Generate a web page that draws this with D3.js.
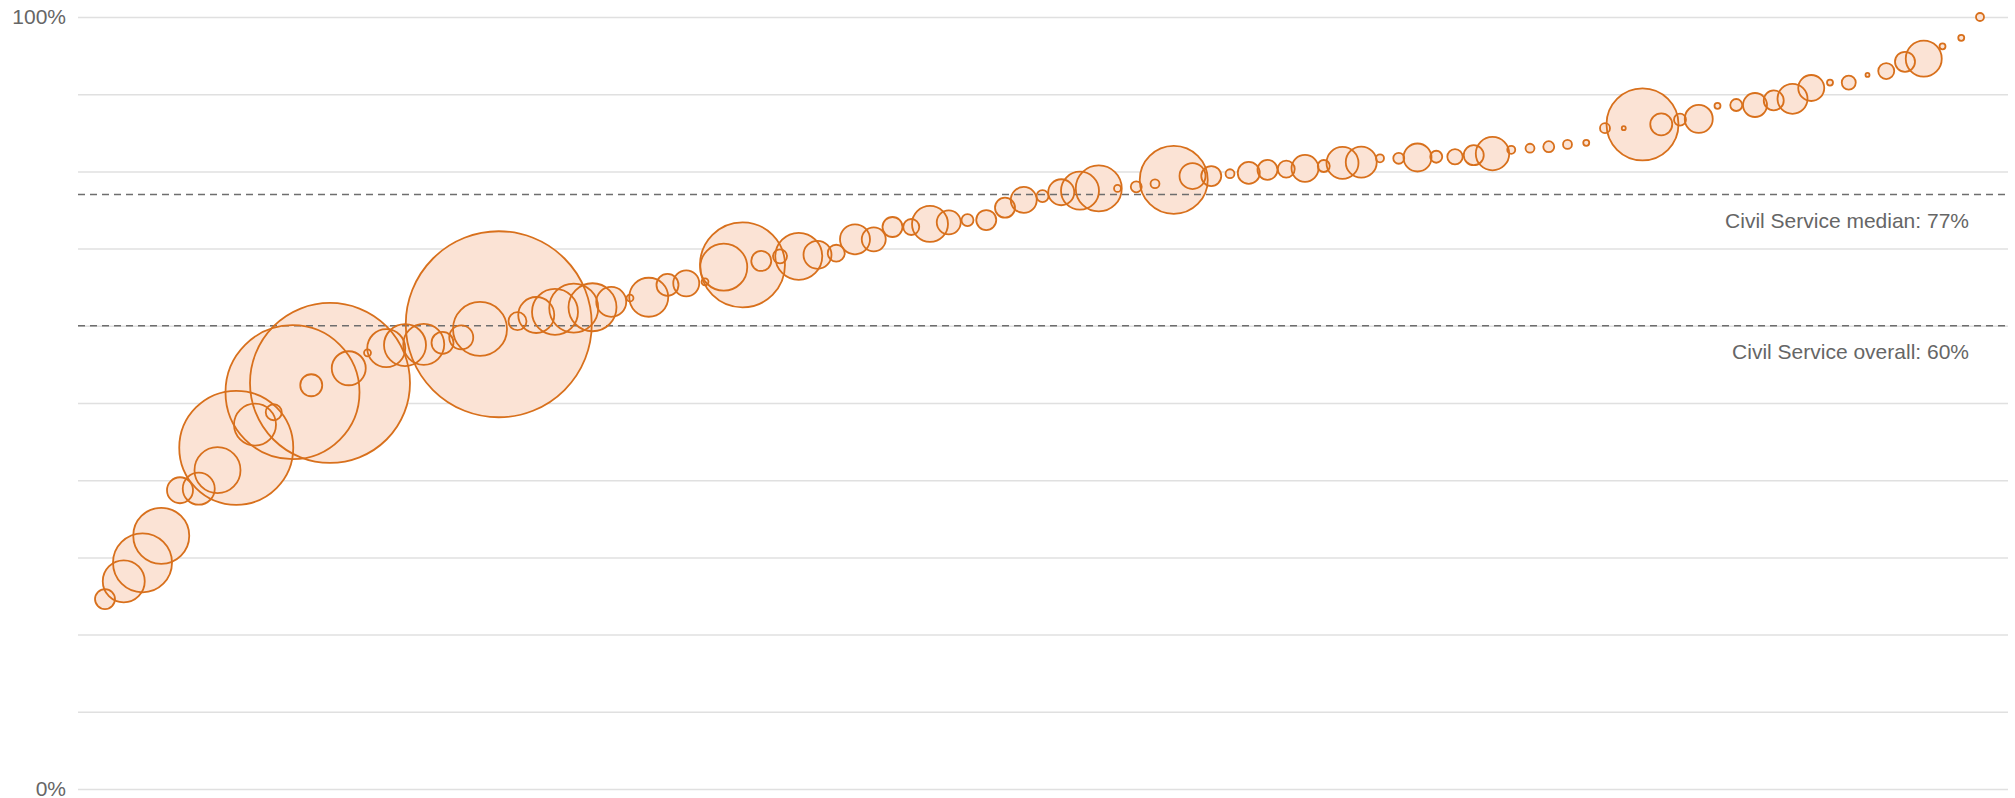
<!DOCTYPE html>
<html>
<head>
<meta charset="utf-8">
<script src="https://cdn.jsdelivr.net/npm/d3@7"></script>
<style>
  body { margin: 0; background: #fff; }
  text { font-family: "Liberation Sans", Arial, Helvetica, sans-serif; }
</style>
</head>
<body>
<div id="chartHolder"></div>
<script>
// share of staff (%) per organisation, sorted low to high
const shares = [
  24.6, 26.9, 29.3, 32.8, 38.7, 38.9, 41.3, 44.2, 47.2, 48.8,
  51.4, 52.3, 52.6, 54.5, 56.5, 57.1, 57.5, 57.6, 57.8, 58.5,
  59.6, 60.2, 60.6, 61.4, 61.8, 62.3, 62.4, 63.1, 63.6, 63.7,
  65.3, 65.5, 65.7, 67.6, 67.9, 68.4, 69.0, 69.0, 69.2, 69.4,
  71.2, 71.2, 72.8, 72.8, 73.2, 73.4, 73.7, 73.7, 75.3, 76.3,
  76.8, 77.3, 77.5, 77.8, 77.8, 78.0, 78.4, 78.9, 79.4, 79.4,
  79.7, 79.8, 80.2, 80.3, 80.4, 80.7, 81.1, 81.2, 81.7, 81.7,
  81.8, 81.9, 81.9, 82.1, 82.3, 82.8, 83.0, 83.2, 83.5, 83.7,
  85.6, 85.6, 86.1, 86.1, 86.7, 86.8, 88.5, 88.6, 88.6, 89.2,
  89.4, 90.8, 91.5, 91.5, 92.5, 93.0, 94.2, 94.6, 96.2, 97.3,
  100
];
// headcount per organisation (bubble area)
const staff = [
  1000, 4410, 8700, 7840, 1690, 2560, 5290, 32490, 4410, 640,
  44890, 1210, 64000, 2890, 120, 3610, 4410, 4200, 1210, 1440,
  7290, 86490, 810, 3240, 5290, 6000, 5760, 2250, 120, 3800,
  1210, 1690, 120, 5520, 18060, 1000, 490, 5520, 1960, 720,
  2250, 1440, 1000, 640, 3240, 1440, 360, 1000, 1000, 1690,
  360, 1690, 3610, 5290, 120, 300, 200, 11560, 1690, 1000,
  200, 1210, 1000, 720, 1820, 360, 2560, 2400, 160, 300,
  1960, 360, 590, 1000, 2790, 160, 200, 300, 200, 90,
  250, 40, 12960, 1210, 360, 1960, 90, 360, 1440, 1000,
  2250, 1690, 90, 490, 40, 640, 1000, 3240, 90, 90,
  160
];
const yTicks = [0, 10, 20, 30, 40, 50, 60, 70, 80, 90, 100];
const refLines = [
  { value: 77, label: "Civil Service median: 77%" },
  { value: 60, label: "Civil Service overall: 60%" }
];

const width = 2015;
const height = 798;
const plotLeft = 78, plotRight = 2008, plotTop = 17, plotBottom = 789;

const svg = d3.select("#chartHolder")
  .append("svg")
  .attr("width", width)
  .attr("height", height);

const xScale = d3.scalePoint()
  .domain(d3.range(shares.length))
  .range([105, 1980]);

const yScale = d3.scaleLinear()
  .domain([0, 100])
  .range([plotBottom, plotTop]);

const rScale = d3.scaleSqrt()
  .domain([0, d3.max(staff)])
  .range([0, 93]);

// gridlines + end labels
const yAxis = d3.axisLeft(yScale)
  .tickValues(yTicks)
  .tickSize(plotRight - plotLeft)
  .tickPadding(12)
  .tickFormat(d => (d === 0 || d === 100) ? d + "%" : "");

const gAxis = svg.append("g")
  .attr("transform", `translate(${plotRight},0)`)
  .call(yAxis);
gAxis.select(".domain").remove();
gAxis.selectAll(".tick line")
  .attr("stroke", "#e0e0e0")
  .attr("stroke-width", 1.5);
gAxis.selectAll(".tick text")
  .attr("fill", "#666")
  .style("font-size", "21px");

const data = shares.map((s, i) => ({ i: i, share: s, staff: staff[i] }));

// fills first so every outline stays visible
svg.append("g")
  .selectAll("circle")
  .data(data)
  .enter()
  .append("circle")
  .attr("cx", d => xScale(d.i))
  .attr("cy", d => yScale(d.share))
  .attr("r", d => rScale(d.staff))
  .attr("fill", "#fbe3d5");

// reference lines
const gRef = svg.append("g");
gRef.selectAll("line")
  .data(refLines)
  .enter()
  .append("line")
  .attr("x1", plotLeft)
  .attr("x2", plotRight)
  .attr("y1", d => yScale(d.value))
  .attr("y2", d => yScale(d.value))
  .attr("stroke", "#6e6e6e")
  .attr("stroke-width", 1.6)
  .attr("stroke-dasharray", "7,5");
gRef.selectAll("text")
  .data(refLines)
  .enter()
  .append("text")
  .attr("x", 1969)
  .attr("y", d => yScale(d.value) + 33)
  .attr("text-anchor", "end")
  .attr("fill", "#666")
  .style("font-size", "21px")
  .text(d => d.label);

// outlines
svg.append("g")
  .selectAll("circle")
  .data(data)
  .enter()
  .append("circle")
  .attr("cx", d => xScale(d.i))
  .attr("cy", d => yScale(d.share))
  .attr("r", d => rScale(d.staff))
  .attr("fill", "none")
  .attr("stroke", "#d8701c")
  .attr("stroke-width", 1.8);
</script>
</body>
</html>
